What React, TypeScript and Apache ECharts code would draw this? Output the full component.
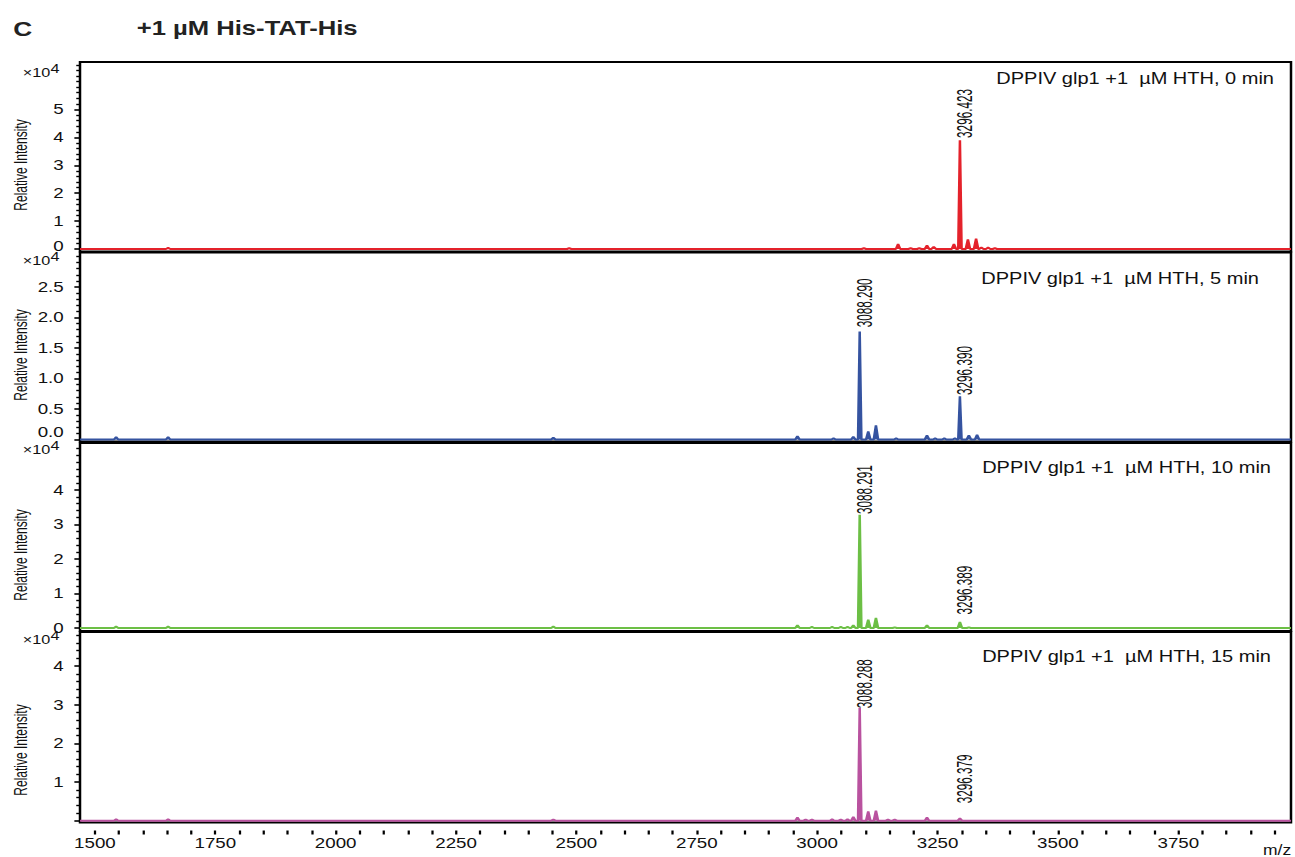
import React, { useEffect, useRef } from "react";
import * as echarts from "echarts";

// ---------------- data ----------------
const figureLetter = "C";
const figureTitle = "+1 µM His-TAT-His";
const panelTitles = [
  "DPPIV glp1 +1  µM HTH, 0 min",
  "DPPIV glp1 +1  µM HTH, 5 min",
  "DPPIV glp1 +1  µM HTH, 10 min",
  "DPPIV glp1 +1  µM HTH, 15 min",
];
const yAxisName = "Relative Intensity";
const xAxisName = "m/z";
const yScaleBase = "×10";
const yScaleExp = "4";

const xMin = 1469;
const xMax = 3984;
const xLabelValues = [1500, 1750, 2000, 2250, 2500, 2750, 3000, 3250, 3500, 3750];

// 0 min (intensities in units of 1e4)
const mz0 = [1652, 2485, 3097, 3168, 3194, 3212, 3228, 3242, 3284, 3296.423, 3313, 3330, 3341, 3355, 3369];
const int0 = [0.04, 0.03, 0.03, 0.18, 0.03, 0.03, 0.13, 0.08, 0.18, 3.9, 0.34, 0.37, 0.05, 0.05, 0.03];
// 5 min
const mz5 = [1544, 1652, 2452, 2959, 3034, 3075, 3088.29, 3106, 3122, 3164, 3228, 3245, 3264, 3286, 3296.39, 3315, 3332];
const int5 = [0.04, 0.04, 0.03, 0.055, 0.02, 0.045, 1.77, 0.13, 0.23, 0.02, 0.066, 0.02, 0.02, 0.02, 0.71, 0.066, 0.077];
// 10 min
const mz10 = [1544, 1652, 2452, 2959, 2989, 3031, 3049, 3063, 3075, 3088.291, 3106, 3122, 3161, 3228, 3296.389, 3315];
const int10 = [0.04, 0.04, 0.04, 0.08, 0.03, 0.03, 0.03, 0.03, 0.08, 3.28, 0.24, 0.29, 0.02, 0.08, 0.17, 0.02];
// 15 min
const mz15 = [1544, 1652, 2452, 2959, 2976, 2989, 3031, 3049, 3063, 3075, 3088.288, 3106, 3122, 3147, 3161, 3228, 3296.379];
const int15 = [0.04, 0.04, 0.03, 0.08, 0.03, 0.03, 0.04, 0.03, 0.04, 0.1, 2.92, 0.24, 0.26, 0.03, 0.03, 0.08, 0.06];

// peak annotations: m/z, height of the label's foot (1e4), text
const lblMz0 = [3296.423];
const lblY0 = [3.98];
const lblTxt0 = ["3296.423"];
const lblMz5 = [3088.29, 3296.39];
const lblY5 = [1.84, 0.73];
const lblTxt5 = ["3088.290", "3296.390"];
const lblMz10 = [3088.291, 3296.389];
const lblY10 = [3.3, 0.39];
const lblTxt10 = ["3088.291", "3296.389"];
const lblMz15 = [3088.288, 3296.379];
const lblY15 = [2.91, 0.45];
const lblTxt15 = ["3088.288", "3296.379"];

const yMins = [-0.09, -0.033, -0.087, -0.047];
const yMaxs = [6.7, 3.066, 5.36, 4.88];
const yLabelValues = [
  [0, 1, 2, 3, 4, 5],
  [0, 0.5, 1, 1.5, 2, 2.5],
  [0, 1, 2, 3, 4],
  [1, 2, 3, 4],
];
const yMinorSteps = [0.2, 0.1, 0.2, 0.2];
const colors = ["#e4222b", "#3553a0", "#6cbf45", "#b9529f"];

// ---------------- layout ----------------
const S = 1.25; // the reference figure is stretched horizontally
const W = 1295 / S;
const H = 857;
const FONT = "'Liberation Sans', Arial, Helvetica, sans-serif";
const GL = 80 / S;
const GR = 1291 / S;
const tops = [62, 252.5, 443, 632];
const bots = [251.5, 441.5, 631, 822.5];
const titleRight = [1274 / S, 1259 / S, 1271 / S, 1271 / S];
const titleY = [80, 280, 469, 658];
const scaleY = [73, 261, 450, 640];
const nameY = [165, 355, 555, 750];
const zeroPad = [5, 14, 0, 0];

const panels = [
  { mz: mz0, it: int0, lm: lblMz0, ly: lblY0, lt: lblTxt0 },
  { mz: mz5, it: int5, lm: lblMz5, ly: lblY5, lt: lblTxt5 },
  { mz: mz10, it: int10, lm: lblMz10, ly: lblY10, lt: lblTxt10 },
  { mz: mz15, it: int15, lm: lblMz15, ly: lblY15, lt: lblTxt15 },
];

function buildSpectrum(mz: number[], it: number[]) {
  const pts: number[][] = [[xMin, 0]];
  mz.forEach((m, k) => {
    const w = it[k] > 0.5 ? 3.5 : 4.5;
    pts.push([m - w, 0], [m, it[k]], [m + w, 0]);
  });
  pts.push([xMax, 0]);
  return pts;
}

function ticksBetween(a: number, b: number, step: number) {
  const out: number[] = [];
  for (let k = Math.ceil(a / step - 1e-9); k * step <= b + 1e-9; k++) out.push(+(k * step).toFixed(4));
  return out;
}

function buildOption() {
  const grid: any[] = [];
  const xAxis: any[] = [];
  const yAxis: any[] = [];
  const series: any[] = [];
  const graphic: any[] = [];
  const xTicks = ticksBetween(1500, xMax, 50);

  panels.forEach((p, i) => {
    grid.push({
      left: GL,
      top: tops[i],
      width: GR - GL,
      height: bots[i] - tops[i],
      show: true,
      borderColor: "#000",
      borderWidth: 2,
      backgroundColor: "transparent",
      containLabel: false,
      outerBoundsMode: "none",
    });
    xAxis.push({
      type: "value",
      gridIndex: i,
      min: xMin,
      max: xMax,
      show: i === 3,
      position: "bottom",
      offset: 8,
      axisLine: { show: false, onZero: false },
      axisTick: { show: true, customValues: xTicks, length: 4, lineStyle: { color: "#000", width: 1.8 } },
      axisLabel: {
        customValues: xLabelValues,
        margin: 5,
        fontSize: 15,
        fontFamily: FONT,
        color: "#111",
        formatter: (v: number) => String(v),
      },
      splitLine: { show: false },
    });
    const dec = i === 1 ? 1 : 0;
    const majors = i === 3 ? [0, ...yLabelValues[i]] : yLabelValues[i];
    const minors = ticksBetween(0, yMaxs[i], yMinorSteps[i]).filter(
      (v) => !majors.some((m) => Math.abs(m - v) < 1e-6)
    );
    const pad = zeroPad[i];
    yAxis.push({
      type: "value",
      gridIndex: i,
      position: "left",
      min: yMins[i],
      max: yMaxs[i],
      axisLine: { show: false, onZero: false },
      axisTick: { show: true, customValues: majors, length: 4.5, lineStyle: { color: "#000", width: 1.6 } },
      axisLabel: {
        customValues: yLabelValues[i],
        margin: 13,
        fontSize: 15,
        fontFamily: FONT,
        color: "#111",
        formatter: (v: number) => {
          const t = v.toFixed(dec);
          return v === 0 && pad > 0 ? `{z|${t}}` : t;
        },
        rich: { z: { fontSize: 15, fontFamily: FONT, color: "#111", padding: [0, 0, pad, 0] } },
      },
      splitLine: { show: false },
    });
    yAxis.push({
      type: "value",
      gridIndex: i,
      position: "left",
      min: yMins[i],
      max: yMaxs[i],
      axisLine: { show: false, onZero: false },
      axisTick: { show: true, customValues: minors, length: 3, lineStyle: { color: "#000", width: 1.4 } },
      axisLabel: { show: false },
      splitLine: { show: false },
    });
    series.push({
      type: "line",
      xAxisIndex: i,
      yAxisIndex: 2 * i,
      data: buildSpectrum(p.mz, p.it),
      showSymbol: false,
      symbol: "none",
      silent: true,
      lineStyle: { color: colors[i], width: 2 },
      areaStyle: { color: colors[i], opacity: 1 },
      z: 3,
    });
    const labels = p.lt;
    series.push({
      type: "custom",
      xAxisIndex: i,
      yAxisIndex: 2 * i,
      silent: true,
      clip: false,
      z: 5,
      data: p.lm.map((m, k) => [m, p.ly[k]]),
      renderItem: (params: any, api: any) => {
        const c = api.coord([api.value(0), api.value(1)]);
        return {
          type: "text",
          x: c[0] + 3.5,
          y: c[1],
          rotation: Math.PI / 2,
          scaleX: 0.69,
          style: {
            text: labels[params.dataIndex],
            fontSize: 17,
            fontFamily: FONT,
            fill: "#111",
            align: "left",
            verticalAlign: "middle",
          },
        };
      },
    });

    graphic.push({
      type: "text",
      right: W - titleRight[i],
      top: titleY[i] - 9,
      style: { text: panelTitles[i], fontSize: 16, fontFamily: FONT, fill: "#111" },
    });
    graphic.push({
      type: "text",
      x: 18.2,
      y: scaleY[i],
      style: { text: yScaleBase, fontSize: 13, lineHeight: 11, fontFamily: FONT, fill: "#111", verticalAlign: "middle" },
    });
    graphic.push({
      type: "text",
      x: 40.3,
      y: scaleY[i] - 4,
      style: { text: yScaleExp, fontSize: 13, lineHeight: 11, fontFamily: FONT, fill: "#111", verticalAlign: "middle" },
    });
    graphic.push({
      type: "text",
      x: 16,
      y: nameY[i],
      rotation: Math.PI / 2,
      scaleX: 0.8,
      style: {
        text: yAxisName,
        fontSize: 15,
        fontFamily: FONT,
        fill: "#111",
        align: "center",
        verticalAlign: "middle",
      },
    });
  });

  graphic.push({
    type: "text",
    x: 10.6,
    y: 28,
    style: { text: figureLetter, fontSize: 21, fontWeight: "bold", fontFamily: FONT, fill: "#222", verticalAlign: "middle" },
  });
  graphic.push({
    type: "text",
    x: 109.4,
    y: 28,
    style: { text: figureTitle, fontSize: 20.5, fontWeight: "bold", fontFamily: FONT, fill: "#222", verticalAlign: "middle" },
  });
  graphic.push({
    type: "text",
    x: 1263 / S,
    y: 850,
    style: { text: xAxisName, fontSize: 14, lineHeight: 12, fontFamily: FONT, fill: "#111", verticalAlign: "middle" },
  });

  return {
    animation: false,
    backgroundColor: "#fff",
    grid,
    xAxis,
    yAxis,
    series,
    graphic,
  };
}

export default function App() {
  const ref = useRef<HTMLDivElement>(null);
  useEffect(() => {
    if (!ref.current) return;
    const chart = echarts.init(ref.current, undefined, { renderer: "svg" });
    chart.setOption(buildOption() as any);
    return () => chart.dispose();
  }, []);
  return (
    <div
      ref={ref}
      style={{
        position: "absolute",
        left: 0,
        top: 0,
        width: W,
        height: H,
        transform: `scaleX(${S})`,
        transformOrigin: "0 0",
      }}
    />
  );
}
